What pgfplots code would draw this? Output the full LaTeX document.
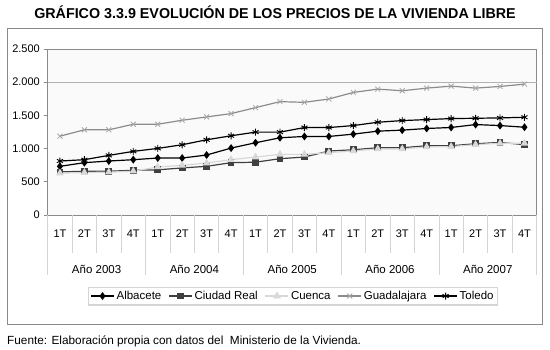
\documentclass[border=0pt]{standalone}
\usepackage{fontspec}
\setmainfont{Liberation Sans}
\usepackage{pgfplots}
\pgfplotsset{compat=1.18}
\definecolor{crc}{HTML}{404040}
\definecolor{cuc}{HTML}{D8D8D8}
\definecolor{guc}{HTML}{8C8C8C}
\definecolor{sepc}{HTML}{D4D4D4}
\definecolor{framec}{HTML}{8A8A8A}
\begin{document}
\begin{tikzpicture}
\useasboundingbox (0bp,0bp) rectangle (550bp,-350bp);
\draw[framec, line width=0.9bp] (7bp,-28bp) rectangle (542bp,-324bp);
\node[font=\bfseries\fontsize{14.3bp}{16bp}\selectfont, inner sep=0] at (275bp,-12.5bp) {GRÁFICO 3.3.9 EVOLUCIÓN DE LOS PRECIOS DE LA VIVIENDA LIBRE};
\node[anchor=base west, font=\fontsize{11.8bp}{13bp}\selectfont, inner sep=0] at (7bp,-344bp) {Fuente: Elaboración propia con datos del\ \ Ministerio de la Vivienda.};
\begin{axis}[
  at={(47.7bp,-215bp)}, anchor=south west,
  scale only axis, width=489bp, height=166bp,
  xmin=-0.5, xmax=19.5, ymin=0, ymax=2500,
  axis background/.style={fill=black!2},
  axis line style={framec, line width=0.8bp},
  tick pos=left, tick align=outside,
  font=\fontsize{11bp}{13bp}\selectfont,
  /pgf/number format/assume math mode=true,
  ytick={0,500,1000,1500,2000,2500},
  yticklabel style={/pgf/number format/.cd, fixed, 1000 sep={.}},
  ytick style={framec, line width=0.8bp},
  major tick length=4bp,
  xtick={0,...,19},
  xticklabels={1T,2T,3T,4T,1T,2T,3T,4T,1T,2T,3T,4T,1T,2T,3T,4T,1T,2T,3T,4T},
  xtick style={draw=none},
  xticklabel style={anchor=center, yshift=-15bp},
  extra y ticks={2000}, extra y tick labels={},
  extra y tick style={grid=major, major grid style={black!30, line width=0.8bp}},
  clip=false,
  line width=1.2bp,
  legend columns=5,
  legend style={at={(0.5016,-0.488)}, anchor=center, draw=sepc, fill=white,
    font=\fontsize{11.5bp}{13bp}\selectfont, inner sep=2bp,
    /tikz/every even column/.append style={column sep=5bp}},
  legend image code/.code={\draw[mark repeat=2,mark phase=2] plot coordinates {(0bp,0bp) (11.5bp,0bp) (23bp,0bp)};},
]
\addplot[black, mark=diamond*, mark size=3bp, mark options={solid, fill=black}] coordinates {
(0,733)(1,788)(2,813)(3,833)(4,858)(5,858)(6,903)(7,1008)(8,1088)(9,1163)
(10,1183)(11,1183)(12,1218)(13,1263)(14,1278)(15,1303)(16,1318)(17,1362)(18,1347)(19,1322)};
\addlegendentry{Albacete}
\addplot[crc, mark=square*, mark size=2.8bp, mark options={solid, fill=crc}] coordinates {
(0,649)(1,659)(2,659)(3,674)(4,680)(5,709)(6,733)(7,788)(8,795)(9,848)
(10,873)(11,963)(12,983)(13,1013)(14,1013)(15,1043)(16,1043)(17,1073)(18,1093)(19,1060)};
\addlegendentry{Ciudad Real}
\addplot[cuc, mark=triangle*, mark size=3.3bp, mark options={solid, fill=cuc}] coordinates {
(0,630)(1,640)(2,645)(3,660)(4,723)(5,748)(6,783)(7,833)(8,873)(9,913)
(10,913)(11,940)(12,965)(13,995)(14,995)(15,1025)(16,1030)(17,1060)(18,1080)(19,1080)};
\addlegendentry{Cuenca}
\addplot[guc, mark=x, mark size=3.5bp, mark options={solid, black!35, line width=0.8bp}] coordinates {
(0,1187)(1,1283)(2,1283)(3,1367)(4,1367)(5,1427)(6,1477)(7,1527)(8,1617)(9,1707)
(10,1697)(11,1747)(12,1846)(13,1896)(14,1871)(15,1911)(16,1941)(17,1911)(18,1936)(19,1971)};
\addlegendentry{Guadalajara}
\addplot[black, mark=asterisk, mark size=3.5bp, mark options={solid, line width=0.9bp}] coordinates {
(0,813)(1,833)(2,898)(3,958)(4,1003)(5,1058)(6,1133)(7,1193)(8,1248)(9,1248)
(10,1317)(11,1317)(12,1347)(13,1397)(14,1422)(15,1437)(16,1452)(17,1457)(18,1462)(19,1472)};
\addlegendentry{Toledo}
\pgfplotsinvokeforeach{0.5,1.5,2.5,4.5,5.5,6.5,8.5,9.5,10.5,12.5,13.5,14.5,16.5,17.5,18.5}{
  \draw[sepc, line width=0.8bp] (axis cs:#1,0) -- ++(0bp,-37.7bp);
}
\pgfplotsinvokeforeach{-0.5,3.5,7.5,11.5,15.5,19.5}{
  \draw[sepc, line width=0.8bp] (axis cs:#1,0) -- ++(0bp,-60bp);
}
\node[font=\fontsize{11.5bp}{13bp}\selectfont] at (axis cs:1.5,0) [yshift=-54bp] {Año 2003};
\node[font=\fontsize{11.5bp}{13bp}\selectfont] at (axis cs:5.5,0) [yshift=-54bp] {Año 2004};
\node[font=\fontsize{11.5bp}{13bp}\selectfont] at (axis cs:9.5,0) [yshift=-54bp] {Año 2005};
\node[font=\fontsize{11.5bp}{13bp}\selectfont] at (axis cs:13.5,0) [yshift=-54bp] {Año 2006};
\node[font=\fontsize{11.5bp}{13bp}\selectfont] at (axis cs:17.5,0) [yshift=-54bp] {Año 2007};
\end{axis}
\end{tikzpicture}
\end{document}
